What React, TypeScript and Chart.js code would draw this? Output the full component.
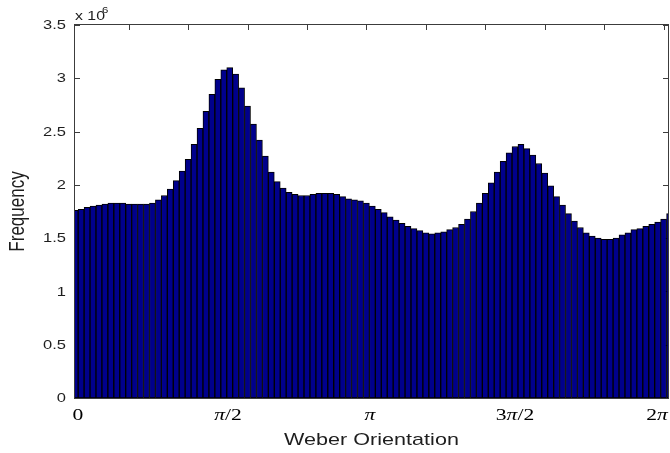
import React, { useEffect, useRef } from "react";
import { Chart, registerables } from "chart.js";

Chart.register(...registerables);

// Histogram heights, in units of 10^6 counts, one per orientation bin.
const FREQUENCY_MILLIONS = [
  1.76, 1.77, 1.79, 1.8, 1.81, 1.82, 1.83, 1.83, 1.83, 1.82,
  1.82, 1.82, 1.82, 1.83, 1.86, 1.9, 1.96, 2.04, 2.13, 2.24,
  2.38, 2.53, 2.69, 2.85, 2.99, 3.08, 3.1, 3.04, 2.91, 2.74,
  2.57, 2.42, 2.27, 2.12, 2.03, 1.97, 1.93, 1.91, 1.9, 1.9,
  1.91, 1.92, 1.92, 1.92, 1.91, 1.89, 1.87, 1.86, 1.85, 1.83,
  1.8, 1.77, 1.74, 1.7, 1.67, 1.64, 1.61, 1.59, 1.57, 1.55,
  1.54, 1.55, 1.56, 1.58, 1.6, 1.63, 1.68, 1.75, 1.83, 1.92,
  2.02, 2.12, 2.22, 2.3, 2.36, 2.38, 2.34, 2.28, 2.2, 2.11,
  1.99, 1.89, 1.81, 1.73, 1.66, 1.6, 1.55, 1.52, 1.5, 1.49,
  1.49, 1.5, 1.53, 1.55, 1.58, 1.59, 1.61, 1.63, 1.65, 1.68,
  1.73,
];

// Bin positions (bin number along the axis).
const BIN_INDEX = FREQUENCY_MILLIONS.map((_, i) => i + 1);

const X_MIN = 0.97;
const X_MAX = 100.74;

const Y_TICKS = [0, 0.5, 1, 1.5, 2, 2.5, 3, 3.5];
const Y_TICK_LABELS = ["0", "0.5", "1", "1.5", "2", "2.5", "3", "3.5"];

// Minor tick marks along the top edge, in bin units.
const TOP_TICKS = [10, 20, 30, 40, 50, 60, 70, 80, 90, 100];

// Orientation labels along the bottom, placed in bin units.
const ANGLE_TICK_POS = [1.47, 26.7, 50.6, 75.0, 98.9];
const ANGLE_TICK_LABELS = ["0", "π/2", "π", "3π/2", "2π"];

const X_TITLE = "Weber Orientation";
const Y_TITLE = "Frequency";

const BAR_FILL = "#00008c";
const BAR_EDGE = "#000000";
const AXIS_COLOR = "#3c3c3c";
const TEXT_COLOR = "#1e1e1e";
const SANS = '"Liberation Sans", Arial, sans-serif';
const SERIF = '"Liberation Serif", "DejaVu Serif", serif';
const TEXT_SX = 1.27; // horizontal widening of the lettering

function wideText(
  ctx: CanvasRenderingContext2D,
  text: string,
  x: number,
  y: number,
  align: CanvasTextAlign,
  baseline: CanvasTextBaseline
) {
  ctx.save();
  ctx.translate(x, y);
  ctx.scale(TEXT_SX, 1);
  ctx.textAlign = align;
  ctx.textBaseline = baseline;
  ctx.fillText(text, 0, 0);
  ctx.restore();
}

// Draws a label such as "3π/2" with an italic π and upright digits.
function mathLabel(ctx: CanvasRenderingContext2D, label: string, cx: number, baseY: number) {
  const parts: { t: string; italic: boolean }[] = [];
  let buf = "";
  for (const ch of label) {
    if (ch === "π") {
      if (buf) parts.push({ t: buf, italic: false });
      parts.push({ t: ch, italic: true });
      buf = "";
    } else buf += ch;
  }
  if (buf) parts.push({ t: buf, italic: false });
  const size = 17;
  const fontFor = (it: boolean) => `${it ? "italic " : ""}${size}px ${SERIF}`;
  let total = 0;
  for (const p of parts) {
    ctx.font = fontFor(p.italic);
    total += ctx.measureText(p.t).width;
  }
  ctx.save();
  ctx.translate(cx, baseY);
  ctx.scale(TEXT_SX, 1);
  ctx.textAlign = "left";
  ctx.textBaseline = "alphabetic";
  ctx.fillStyle = "#000";
  let x = -total / 2;
  for (const p of parts) {
    ctx.font = fontFor(p.italic);
    ctx.fillText(p.t, x, 0);
    x += ctx.measureText(p.t).width;
  }
  ctx.restore();
}

const frame = {
  id: "matlabFrame",
  beforeDatasetsDraw(chart: any) {
    const { ctx, chartArea: a, scales } = chart;
    const y = scales.y;
    const x = scales.x;
    ctx.save();
    ctx.strokeStyle = AXIS_COLOR;
    ctx.lineWidth = 1;
    ctx.beginPath();
    for (const v of Y_TICKS) {
      const py = Math.round(y.getPixelForValue(v)) + 0.5;
      ctx.moveTo(a.left, py);
      ctx.lineTo(a.left + 5, py);
      ctx.moveTo(a.right, py);
      ctx.lineTo(a.right - 5, py);
    }
    for (const v of TOP_TICKS) {
      const px = Math.round(x.getPixelForValue(v)) + 0.5;
      ctx.moveTo(px, a.top);
      ctx.lineTo(px, a.top + 5);
    }
    ctx.stroke();
    ctx.restore();
  },
  afterDatasetsDraw(chart: any) {
    const { ctx, chartArea: a, scales } = chart;
    const y = scales.y;
    const x = scales.x;
    ctx.save();
    // axis box
    ctx.strokeStyle = AXIS_COLOR;
    ctx.lineWidth = 1;
    ctx.strokeRect(a.left - 0.5, a.top - 0.5, a.right - a.left + 1, a.bottom - a.top + 1);

    // y tick labels
    ctx.fillStyle = TEXT_COLOR;
    ctx.font = `13px ${SANS}`;
    Y_TICKS.forEach((v, i) => {
      wideText(ctx, Y_TICK_LABELS[i], a.left - 9, y.getPixelForValue(v) + 0.5, "right", "middle");
    });

    // exponent marker above the y axis
    ctx.font = `12.5px ${SANS}`;
    wideText(ctx, "x 10", a.left, a.top - 5, "left", "alphabetic");
    ctx.font = `9px ${SANS}`;
    wideText(ctx, "6", a.left + 27, a.top - 12, "left", "alphabetic");

    // angle labels
    ANGLE_TICK_POS.forEach((v, i) => {
      mathLabel(ctx, ANGLE_TICK_LABELS[i], x.getPixelForValue(v), a.bottom + 22);
    });

    // axis titles
    ctx.fillStyle = TEXT_COLOR;
    ctx.font = `17px ${SANS}`;
    wideText(ctx, X_TITLE, (a.left + a.right) / 2, a.bottom + 47, "center", "alphabetic");

    ctx.save();
    ctx.translate(18, (a.top + a.bottom) / 2);
    ctx.scale(TEXT_SX, 1);
    ctx.rotate(-Math.PI / 2);
    ctx.textAlign = "center";
    ctx.textBaseline = "middle";
    ctx.font = `17px ${SANS}`;
    ctx.fillText(Y_TITLE, 0, 0);
    ctx.restore();

    ctx.restore();
  },
};

export default function App() {
  const canvasRef = useRef<HTMLCanvasElement | null>(null);

  useEffect(() => {
    const canvas = canvasRef.current;
    if (!canvas) return;
    const chart = new Chart(canvas, {
      type: "bar",
      data: {
        datasets: [
          {
            data: BIN_INDEX.map((b, i) => ({ x: b, y: FREQUENCY_MILLIONS[i] })),
            backgroundColor: BAR_FILL,
            borderColor: BAR_EDGE,
            borderWidth: 1,
            borderSkipped: false,
            barPercentage: 1,
            categoryPercentage: 1,
            clip: 0,
          } as any,
        ],
      },
      options: {
        responsive: false,
        animation: false,
        events: [],
        devicePixelRatio: 1,
        layout: { padding: { left: 75, right: 2, top: 25, bottom: 55 } },
        plugins: {
          legend: { display: false },
          tooltip: { enabled: false },
        },
        scales: {
          x: {
            type: "linear",
            min: X_MIN,
            max: X_MAX,
            offset: false,
            display: false,
          },
          y: {
            type: "linear",
            min: 0,
            max: 3.5,
            display: false,
          },
        },
      },
      plugins: [frame],
    });
    return () => chart.destroy();
  }, []);

  return (
    <div style={{ position: "fixed", left: 0, top: 0, width: 670, height: 453, background: "#fff" }}>
      <canvas ref={canvasRef} width={670} height={453} style={{ display: "block" }} />
    </div>
  );
}
